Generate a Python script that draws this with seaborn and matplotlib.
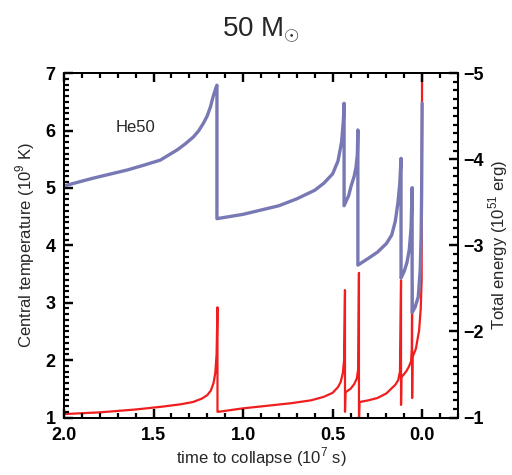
import matplotlib
matplotlib.use("Agg")
import matplotlib.pyplot as plt
import seaborn as sns
import pandas as pd
from matplotlib.ticker import MultipleLocator

sns.set_theme(style="ticks")
plt.rcParams.update({
    "axes.axisbelow": False,
    "xtick.direction": "in", "ytick.direction": "in",
    "xtick.color": "black", "ytick.color": "black",
    "axes.edgecolor": "black",
})
plt.rcParams['font.family'] = ['Liberation Sans', 'DejaVu Sans']
plt.rcParams['mathtext.fontset'] = 'custom'
plt.rcParams['mathtext.rm'] = 'Liberation Sans'

# Total energy (10^51 erg), right axis
t_energy = [2.0, 1.838, 1.647, 1.556, 1.462, 1.367, 1.322, 1.277, 1.248, 1.221, 1.201, 1.182,
            1.167, 1.150, 1.146, 1.146,
            1.0, 0.8, 0.7, 0.6, 0.55, 0.5, 0.47, 0.45, 0.44, 0.436, 0.436,
            0.41, 0.398, 0.38, 0.37, 0.362, 0.359, 0.359,
            0.3, 0.25, 0.2, 0.17, 0.15, 0.135, 0.125, 0.118, 0.118,
            0.1, 0.085, 0.072, 0.062, 0.056, 0.056,
            0.04, 0.022, 0.011, 0.006, 0.003, 0.0]
energy = [-3.69, -3.78, -3.875, -3.93, -3.99, -4.11, -4.18, -4.26, -4.33, -4.42, -4.50, -4.61,
          -4.73, -4.84, -4.86, -3.31,
          -3.36, -3.46, -3.54, -3.64, -3.72, -3.83, -3.98, -4.2, -4.45, -4.65, -3.46,
          -3.58, -3.68, -3.8, -3.9, -4.05, -4.34, -2.77,
          -2.85, -2.92, -3.02, -3.12, -3.28, -3.5, -3.72, -4.01, -2.62,
          -2.70, -2.8, -2.95, -3.2, -3.67, -2.22,
          -2.28, -2.40, -2.71, -3.1, -3.6, -4.65]

# Central temperature (10^9 K), left axis
t_temp = [2.0, 1.8, 1.6, 1.45, 1.35, 1.28, 1.23, 1.2, 1.18, 1.165, 1.155, 1.148, 1.143, 1.143,
          1.137, 1.0, 0.85, 0.73, 0.62, 0.55, 0.5, 0.47, 0.455, 0.443, 0.436, 0.431, 0.431,
          0.428, 0.40, 0.38, 0.365, 0.357, 0.353, 0.353, 0.35,
          0.3, 0.25, 0.2, 0.17, 0.15, 0.134, 0.124, 0.118, 0.118,
          0.116, 0.09, 0.075, 0.062, 0.058, 0.056, 0.056,
          0.054, 0.035, 0.017, 0.008, 0.003, 0.0]
temp = [1.06, 1.09, 1.14, 1.19, 1.23, 1.27, 1.33, 1.39, 1.47, 1.60, 1.78, 2.1, 2.92, 1.10,
        1.10, 1.16, 1.21, 1.25, 1.30, 1.36, 1.43, 1.53, 1.62, 1.775, 2.0, 3.22, 1.10,
        1.44, 1.5, 1.58, 1.68, 1.85, 3.52, 0.9, 1.27,
        1.30, 1.34, 1.42, 1.51, 1.57, 1.65, 1.8, 3.39, 1.22,
        1.70, 1.80, 1.88, 1.98, 2.2, 3.3, 1.34,
        2.05, 2.2, 2.52, 2.9, 3.4, 8.0]

x_ticks = [2.0, 1.5, 1.0, 0.5, 0.0]
x_ticklabels = ["2.0", "1.5", "1.0", "0.5", "0.0"]
yl_ticks = [1, 2, 3, 4, 5, 6, 7]
yr_ticks = [-1, -2, -3, -4, -5]

df_e = pd.DataFrame({"t": t_energy, "E": energy})
df_t = pd.DataFrame({"t": t_temp, "T": temp})

W, H = 512, 475
fig = plt.figure(figsize=(W / 100, H / 100), dpi=100)
pos = [0.125, 0.121, 0.7695, 0.725]
ax = fig.add_axes(pos)
sns.lineplot(data=df_t, x="t", y="T", sort=False, estimator=None, ax=ax,
             color="#f01e1e", linewidth=1.6)
ax.set_xlim(2.0, -0.2)
ax.set_ylim(1, 7)

ax2 = ax.twinx()
sns.lineplot(data=df_e, x="t", y="E", sort=False, estimator=None, ax=ax2,
             color="#7878b4", linewidth=2.4)
ax2.set_ylim(-1, -5)
ax2.set_xlim(2.0, -0.2)

tick_font = dict(fontsize=13, fontweight='bold')
ax.set_xticks(x_ticks)
ax.set_xticklabels(x_ticklabels, **tick_font)
ax.set_yticks(yl_ticks)
ax.set_yticklabels([str(v) for v in yl_ticks], **tick_font)
ax2.set_yticks(yr_ticks)
ax2.set_yticklabels(["\u2212%d" % abs(v) for v in yr_ticks], **tick_font)

ax.xaxis.set_minor_locator(MultipleLocator(0.1))
ax.yaxis.set_minor_locator(MultipleLocator(0.1))
ax2.yaxis.set_minor_locator(MultipleLocator(0.1))
for a in (ax, ax2):
    a.tick_params(which='major', length=6.5, width=1.6, color='black')
    a.tick_params(which='minor', length=3.5, width=1.3, color='black')
ax.tick_params(axis='x', which='both', direction='in', top=True, bottom=True, pad=7)
ax.tick_params(axis='y', which='both', direction='in', left=True, right=False, pad=6)
ax2.tick_params(axis='y', which='both', direction='in', right=True, left=False, pad=4)

# explicit inward tick marks (major + minor), derived from the axis locators
axw, axh = pos[2] * W, pos[3] * H
maj_px, min_px = 9.0, 5.0
tick_kw = dict(color='black', lw=1.6, clip_on=False, solid_capstyle='butt', zorder=6)
for v in MultipleLocator(0.1).tick_values(-0.2, 2.0):
    if not (-0.2 - 1e-9 <= v <= 2.0 + 1e-9):
        continue
    is_major = any(abs(v - m) < 1e-6 for m in x_ticks)
    L = (maj_px if is_major else min_px) / axh
    ax.plot([v, v], [0, L], transform=ax.get_xaxis_transform(), **tick_kw)
    ax.plot([v, v], [1 - L, 1], transform=ax.get_xaxis_transform(), **tick_kw)
for v in MultipleLocator(0.1).tick_values(1, 7):
    if not (1 - 1e-9 <= v <= 7 + 1e-9):
        continue
    is_major = abs(v - round(v)) < 1e-6
    L = (maj_px if is_major else min_px) / axw
    ax.plot([0, L], [v, v], transform=ax.get_yaxis_transform(), **tick_kw)
for v in MultipleLocator(0.1).tick_values(-5, -1):
    if not (-5 - 1e-9 <= v <= -1 + 1e-9):
        continue
    is_major = abs(v - round(v)) < 1e-6
    L = (maj_px if is_major else min_px) / axw
    ax2.plot([1 - L, 1], [v, v], transform=ax2.get_yaxis_transform(), **tick_kw)

ax.set_xlabel("time to collapse (10$^{7}$ s)", fontsize=12, labelpad=1)
ax.set_ylabel("Central temperature (10$^{9}$ K)", fontsize=12, labelpad=6)
ax2.set_ylabel("Total energy (10$^{51}$ erg)", fontsize=12, labelpad=2)

for a in (ax, ax2):
    for s in a.spines.values():
        s.set_visible(True)
        s.set_color('black')
        s.set_linewidth(1.4)

ax.text(0.13, 0.83, "He50", transform=ax.transAxes, fontsize=12)
fig.text(0.51, 0.937, "50 M$_{\\odot}$", fontsize=20, ha='center', va='center')

fig.savefig("out.png", dpi=100)
